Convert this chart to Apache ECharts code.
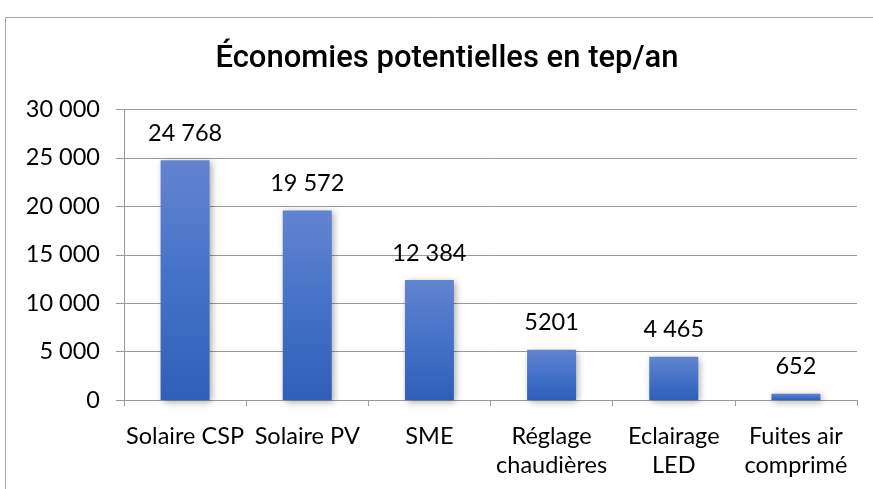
<!DOCTYPE html>
<html>
<head>
<meta charset="utf-8">
<script src="https://cdn.jsdelivr.net/npm/echarts@6/dist/echarts.min.js"></script>
<style>
  html, body { margin: 0; padding: 0; background: #fff; }
  #chart { width: 873px; height: 489px; }
</style>
</head>
<body>
<div id="chart"></div>
<script>
// Potential savings per measure (tep/an)
const categories = ['Solaire CSP', 'Solaire PV', 'SME', 'Réglage\nchaudières', 'Eclairage\nLED', 'Fuites air\ncomprimé'];
const savings = [24768, 19572, 12384, 5201, 4465, 652];
const valueLabels = ['24 768', '19 572', '12 384', '5201', '4 465', '652'];
const titleText = 'Économies potentielles en tep/an';

const fmtThousands = v => String(v).replace(/\B(?=(\d{3})+(?!\d))/g, ' ');

const chart = echarts.init(document.getElementById('chart'), null, { renderer: 'canvas' });
const labelFont = 'Lato, Carlito, "Liberation Sans", sans-serif';

chart.setOption({
  animation: false,
  backgroundColor: '#fff',
  graphic: [{
    type: 'rect',
    shape: { x: 5.5, y: 17.5, width: 900, height: 500 },
    style: { fill: 'none', stroke: '#a6a6a6', lineWidth: 1 },
    silent: true
  }],
  title: {
    text: titleText,
    left: 442,
    textAlign: 'center',
    top: 39,
    textStyle: {
      fontFamily: 'Roboto, "DejaVu Sans", sans-serif',
      fontSize: 31,
      fontWeight: 500,
      color: '#000'
    }
  },
  grid: { left: 124, right: 16, top: 109.5, bottom: 89, containLabel: false },
  xAxis: {
    type: 'category',
    data: categories,
    axisLine: { show: true, lineStyle: { color: '#9a9a9a', width: 1 } },
    axisTick: { show: true, alignWithLabel: false, length: 6, lineStyle: { color: '#9a9a9a' } },
    axisLabel: {
      interval: 0,
      margin: 22,
      fontFamily: labelFont,
      fontSize: 23.5,
      lineHeight: 29,
      color: '#000'
    }
  },
  yAxis: {
    type: 'value',
    min: 0,
    max: 30000,
    interval: 5000,
    axisLine: { show: true, lineStyle: { color: '#9a9a9a', width: 1 } },
    axisTick: { show: true, length: 8, lineStyle: { color: '#9a9a9a' } },
    splitLine: { show: true, lineStyle: { color: '#9a9a9a', width: 1 } },
    axisLabel: {
      margin: 24,
      fontFamily: labelFont,
      fontSize: 23.5,
      color: '#000',
      formatter: v => fmtThousands(v)
    }
  },
  series: [{
    type: 'bar',
    data: savings,
    barWidth: 49,
    itemStyle: {
      color: new echarts.graphic.LinearGradient(0, 0, 0, 1, [
        { offset: 0, color: '#6384cf' },
        { offset: 0.5, color: '#4472c8' },
        { offset: 1, color: '#2f5fb9' }
      ]),
      shadowColor: 'rgba(0,0,0,0.35)',
      shadowBlur: 7,
      shadowOffsetX: 2,
      shadowOffsetY: 2
    },
    label: {
      show: true,
      position: 'top',
      distance: 15,
      fontFamily: labelFont,
      fontSize: 23.5,
      color: '#000',
      formatter: p => valueLabels[p.dataIndex]
    }
  }]
});
</script>
</body>
</html>
